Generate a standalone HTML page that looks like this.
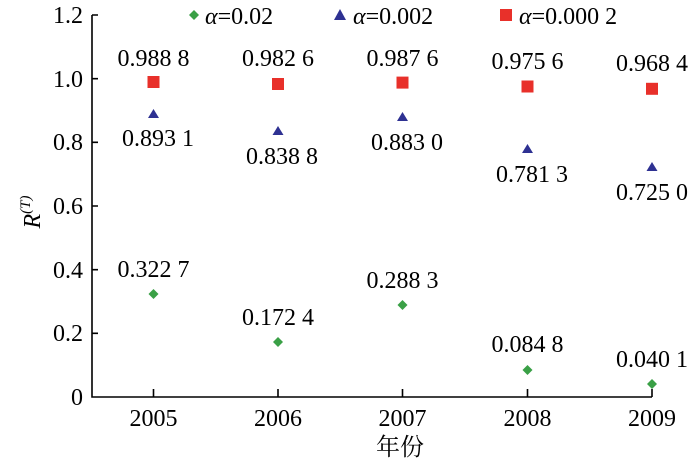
<!DOCTYPE html><html><head><style>body{margin:0;background:#fff}</style></head><body>
<svg width="700" height="464" xmlns="http://www.w3.org/2000/svg" font-family="Liberation Serif, serif" font-size="24">
<g stroke="#000" stroke-width="1.6" fill="none">
<path d="M92,15 V397 H652"/>
<path d="M92,15 h6 M92,78.7 h6 M92,142.3 h6 M92,206 h6 M92,269.7 h6 M92,333.3 h6"/>
<path d="M153.5,397 v-8 M278,397 v-8 M402.5,397 v-8 M527.5,397 v-8 M652,397 v-8"/>
</g>
<g text-anchor="end">
<text x="83" y="23">1.2</text><text x="83" y="87">1.0</text><text x="83" y="150">0.8</text><text x="83" y="214">0.6</text><text x="83" y="278">0.4</text><text x="83" y="341">0.2</text><text x="83" y="405">0</text>
</g>
<g text-anchor="middle">
<text x="153.5" y="426">2005</text><text x="278" y="426">2006</text><text x="402.5" y="426">2007</text><text x="527.5" y="426">2008</text><text x="652" y="426">2009</text>
<text x="400" y="455" font-family="Liberation Serif, Noto Serif CJK SC, serif">年份</text>
</g>
<text transform="translate(40,212) rotate(-90)" text-anchor="middle" font-style="italic">R<tspan font-size="15" dy="-10">(T)</tspan></text>
<!-- legend -->
<path d="M189,15 l5,-5 5,5 -5,5z" fill="#3aa046"/>
<text x="205" y="24"><tspan font-style="italic">α</tspan>=0.02</text>
<path d="M334,20 l6,-11 6,11z" fill="#2e3192"/>
<text x="353" y="24"><tspan font-style="italic">α</tspan>=0.002</text>
<rect x="500" y="9" width="12" height="12" fill="#e8302a"/>
<text x="519" y="24"><tspan font-style="italic">α</tspan>=0.000 2</text>
<!-- red -->
<g fill="#e8302a">
<rect x="147.5" y="76" width="12" height="12"/><rect x="272" y="78" width="12" height="12"/><rect x="396.5" y="76.6" width="12" height="12"/><rect x="521.5" y="80.5" width="12" height="12"/><rect x="646" y="82.8" width="12" height="12"/>
</g>
<g text-anchor="middle">
<text x="153.5" y="66">0.988 8</text><text x="278" y="66">0.982 6</text><text x="402.5" y="66">0.987 6</text><text x="527.5" y="69">0.975 6</text><text x="652" y="71">0.968 4</text>
</g>
<!-- blue -->
<g fill="#2e3192">
<path d="M153.5,109 l-5.5,9 h11z"/><path d="M278,126 l-5.5,9 h11z"/><path d="M402.5,112 l-5.5,9 h11z"/><path d="M527.5,144 l-5.5,9 h11z"/><path d="M652,162 l-5.5,9 h11z"/>
</g>
<g text-anchor="middle">
<text x="158" y="146">0.893 1</text><text x="282" y="164">0.838 8</text><text x="407" y="150">0.883 0</text><text x="532" y="182">0.781 3</text><text x="652" y="200">0.725 0</text>
</g>
<!-- green -->
<g fill="#3aa046">
<path d="M153.5,289 l5,5 -5,5 -5,-5z"/><path d="M278,337 l5,5 -5,5 -5,-5z"/><path d="M402.5,300 l5,5 -5,5 -5,-5z"/><path d="M527.5,365 l5,5 -5,5 -5,-5z"/><path d="M652,379 l5,5 -5,5 -5,-5z"/>
</g>
<g text-anchor="middle">
<text x="153.5" y="277">0.322 7</text><text x="278" y="325">0.172 4</text><text x="402.5" y="288">0.288 3</text><text x="527.5" y="352">0.084 8</text><text x="652" y="367">0.040 1</text>
</g>
</svg></body></html>
